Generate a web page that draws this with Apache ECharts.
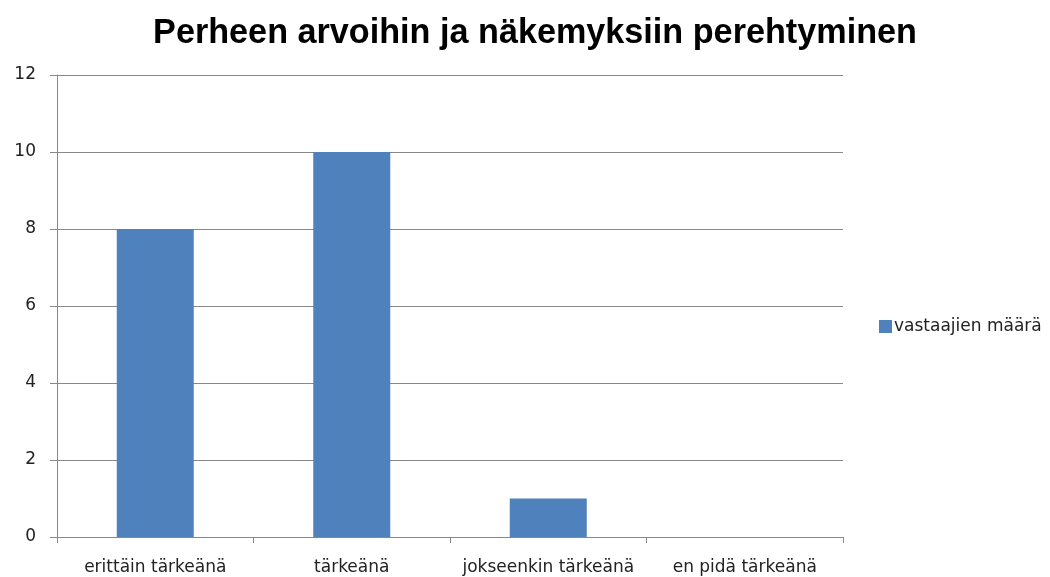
<!DOCTYPE html>
<html><head><meta charset="utf-8">
<script src="https://cdn.jsdelivr.net/npm/echarts@6/dist/echarts.min.js"></script>
<style>html,body{margin:0;padding:0;background:#fff}#c{width:1050px;height:577px}</style>
</head><body><div id="c"></div>
<script>
const titleText = 'Perheen arvoihin ja näkemyksiin perehtyminen';
const categories = ['erittäin tärkeänä', 'tärkeänä', 'jokseenkin tärkeänä', 'en pidä tärkeänä'];
const seriesName = 'vastaajien määrä';
const values = [8, 10, 1, 0];
const yTicks = {min: 0, max: 12, interval: 2};

const chart = echarts.init(document.getElementById('c'));
chart.setOption({
  animation: false,
  backgroundColor: '#fff',
  title: {
    text: titleText, left: 530, top: 12, textAlign: 'center',
    textStyle: {fontFamily: 'Liberation Sans', fontWeight: 'bold', fontSize: 34.2, color: '#000'}
  },
  legend: {
    data: [seriesName], left: 874, top: 313, itemWidth: 13, itemHeight: 13, itemGap: 4,
    icon: 'rect',
    textStyle: {fontFamily: 'DejaVu Sans', fontSize: 17, color: '#222', padding: [0,0,0,-3]}
  },
  grid: {left: 57, right: 207, top: 75, bottom: 40},
  xAxis: {
    type: 'category', data: categories,
    axisLine: {lineStyle: {color: '#888', width: 1}},
    axisTick: {show: true, interval: 0, length: 6, lineStyle: {color: '#888'}},
    axisLabel: {interval: 0, fontFamily: 'DejaVu Sans', fontSize: 17, color: '#222', margin: 22}
  },
  yAxis: {
    type: 'value', min: yTicks.min, max: yTicks.max, interval: yTicks.interval,
    axisLine: {show: true, lineStyle: {color: '#888'}},
    axisTick: {show: true, inside: false, length: 7, lineStyle: {color: '#888'}},
    splitLine: {lineStyle: {color: '#888'}},
    axisLabel: {fontFamily: 'DejaVu Sans', fontSize: 17, color: '#222', margin: 21}
  },
  series: [{
    name: seriesName, type: 'bar', data: values, barWidth: 77,
    itemStyle: {color: '#4F81BD'}
  }]
});
</script></body></html>
